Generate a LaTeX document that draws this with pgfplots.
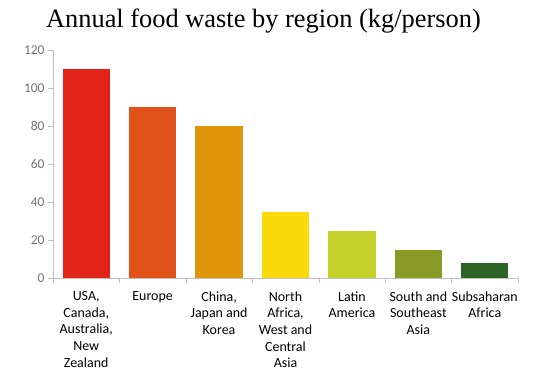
\documentclass[border=0pt]{standalone}
\usepackage{pgfplots}
\pgfplotsset{compat=1.18}
\usepackage{fontspec}
\setmainfont{Carlito}
\newfontfamily\titlefont{Liberation Serif}
\definecolor{c1}{HTML}{E2231A}
\definecolor{c2}{HTML}{E0521A}
\definecolor{c3}{HTML}{E0960B}
\definecolor{c4}{HTML}{FCD90A}
\definecolor{c5}{HTML}{C4D12A}
\definecolor{c6}{HTML}{8A9A27}
\definecolor{c7}{HTML}{2A6427}
\definecolor{axgray}{HTML}{BFBFBF}
\definecolor{tickgray}{HTML}{737373}
\begin{document}
\begin{tikzpicture}
\useasboundingbox (-53bp,-97bp) rectangle (487bp,278bp);
\begin{axis}[
  scale only axis,
  width=465bp, height=228bp,
  xmin=-0.5, xmax=6.5,
  ymin=0, ymax=120,
  ytick={0,20,...,120},
  xtick={0,...,6},
  xticklabels={{USA,\\Canada,\\Australia,\\New\\Zealand},{Europe},{China,\\Japan and\\Korea},{North\\Africa,\\West and\\Central\\Asia},{Latin\\America},{South and\\Southeast\\Asia},{Subsaharan\\Africa}},
  xticklabel style={align=center, font=\fontsize{14}{16.7}\selectfont, text=black, anchor=north, yshift=-5bp},
  major x tick style={draw=none},
  minor xtick={-0.5,0.5,...,6.5},
  minor x tick style={axgray},
  minor tick length=5bp,
  major tick length=5bp,
  tick align=outside,
  y tick style={axgray},
  yticklabel style={font=\fontsize{13.5}{15}\selectfont, text=tickgray},
  /pgf/number format/assume math mode=true,
  axis x line*=bottom, axis y line*=left,
  axis line style={axgray, line width=0.8pt},
  x axis line style={-}, y axis line style={-},
  ybar, bar width=0.71, bar shift=0pt,
  title={\titlefont\fontsize{26.5}{30}\selectfont Annual food waste by region (kg/person)},
  title style={at={(0.5,1)}, anchor=base, yshift=17bp, xshift=-22bp},
  clip=false,
]
\addplot[fill=c1, draw=none] coordinates {(0,110)};
\addplot[fill=c2, draw=none] coordinates {(1,90)};
\addplot[fill=c3, draw=none] coordinates {(2,80)};
\addplot[fill=c4, draw=none] coordinates {(3,35)};
\addplot[fill=c5, draw=none] coordinates {(4,25)};
\addplot[fill=c6, draw=none] coordinates {(5,15)};
\addplot[fill=c7, draw=none] coordinates {(6,8)};
\end{axis}
\end{tikzpicture}
\end{document}
